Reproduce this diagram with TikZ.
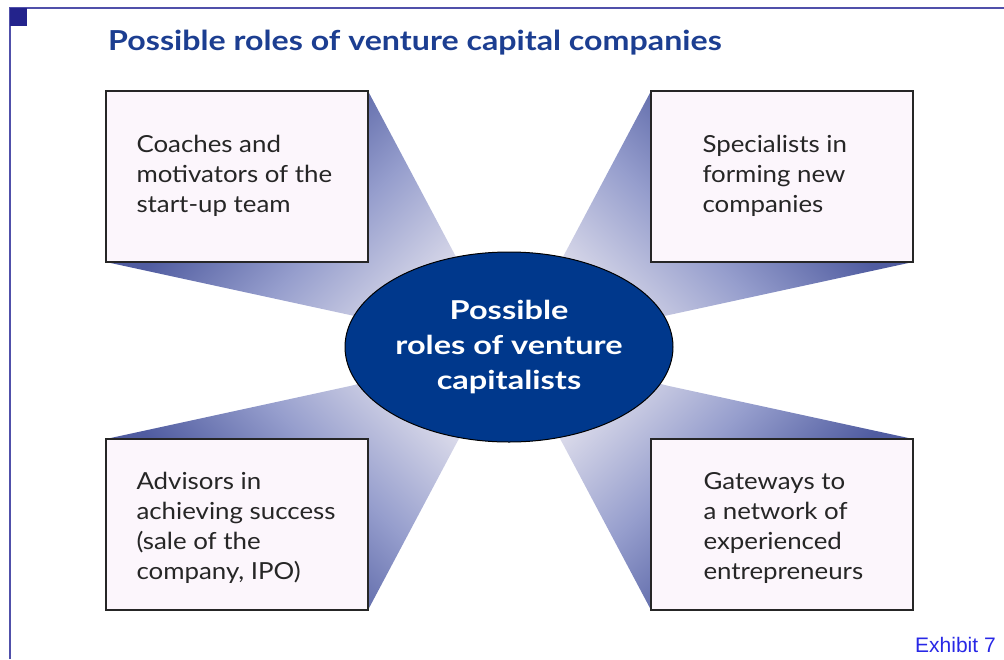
\documentclass[tikz,border=0pt]{standalone}
\usepackage{fontspec}
\setmainfont{Lato}[FakeStretch=1.1]
\newfontfamily\titlef{Lato}[FakeStretch=1.17]
\newfontfamily\ellf{Lato}[FakeStretch=1.25]
\newfontfamily\arialf{Liberation Sans}
\usetikzlibrary{shapes.geometric}
\definecolor{bd}{RGB}{80,92,160}
\definecolor{bm}{RGB}{150,158,205}
\definecolor{bl}{RGB}{218,218,234}
\definecolor{boxfill}{RGB}{252,246,252}
\definecolor{ellfill}{RGB}{0,56,140}
\definecolor{titleblue}{RGB}{28,62,145}
\definecolor{framec}{RGB}{80,80,170}
\definecolor{sqc}{RGB}{35,35,140}
\definecolor{exblue}{RGB}{40,40,230}
\pgfdeclarehorizontalshading{beamsh}{100bp}{color(0bp)=(bd); color(39bp)=(bd); color(50bp)=(bm); color(61bp)=(bl); color(100bp)=(bl)}
\begin{document}
\begin{tikzpicture}[x=1pt,y=-1pt,
  boxst/.style={draw=black!85, line width=1.4pt, fill=boxfill,
    minimum width=262pt, minimum height=171pt, inner sep=0pt},
  txtst/.style={align=left, inner sep=0pt, anchor=west,
    font=\fontsize{23.5}{30}\selectfont, text=black!85},
  beamshade/.style={shading=beamsh, shading angle=#1},
]
\useasboundingbox (0,0) rectangle (1004,659);
% frame
\draw[framec, line width=1.6pt] (10,659) -- (10,8) -- (1004,8);
\fill[sqc] (10,8) rectangle (27,26);
% beams
\begin{scope}
\clip (368,91) -- (455,255) -- (509,347) -- (350,315) -- (106,262) -- cycle;
\shade[beamshade=-45] (64,3) rectangle ++(500,500);
\end{scope}
\begin{scope}
\clip (651,91) -- (564,255) -- (509,347) -- (669,315) -- (913,262) -- cycle;
\shade[beamshade=-135] (455,3) rectangle ++(500,500);
\end{scope}
\begin{scope}
\clip (106,439) -- (350,386) -- (509,347) -- (455,446) -- (368,610) -- cycle;
\shade[beamshade=45] (64,198) rectangle ++(500,500);
\end{scope}
\begin{scope}
\clip (913,439) -- (669,386) -- (509,347) -- (564,446) -- (651,610) -- cycle;
\shade[beamshade=135] (455,198) rectangle ++(500,500);
\end{scope}
% boxes
\node[boxst] (tl) at (237,176.5) {};
\node[boxst] (tr) at (782,176.5) {};
\node[boxst] (bl) at (237,524.5) {};
\node[boxst] (br) at (782,524.5) {};
\node[txtst] (tlt) at ([xshift=31pt,yshift=1pt]tl.west) {Coaches and\\motivators of the\\start-up team};
\node[txtst] (trt) at ([xshift=52pt,yshift=1pt]tr.west) {Specialists in\\forming new\\companies};
\node[txtst] (blt) at ([xshift=31pt,yshift=-3pt]bl.west) {Advisors in\\achieving success\\(sale of the\\company, IPO)};
\node[txtst] (brt) at ([xshift=53pt,yshift=-3pt]br.west) {Gateways to\\a network of\\experienced\\entrepreneurs};
% ellipse
\node[ellipse, draw=black, line width=1pt, fill=ellfill, text=white, inner sep=0pt,
  minimum width=328pt, minimum height=190pt, align=center,
  font=\ellf\bfseries\fontsize{26}{35}\selectfont] (ell) at (509,347)
  {Possible\\roles of venture\\capitalists};
% title
\node[anchor=base west, inner sep=0pt, text=titleblue, font=\titlef\bfseries\fontsize{27.5}{30}\selectfont] (title) at (108,50) {Possible roles of venture capital companies};
\node[anchor=base west, inner sep=0pt, text=exblue, font=\arialf\fontsize{21}{24}\selectfont] (exh) at (915,652) {Exhibit 7};
\end{tikzpicture}
\end{document}
